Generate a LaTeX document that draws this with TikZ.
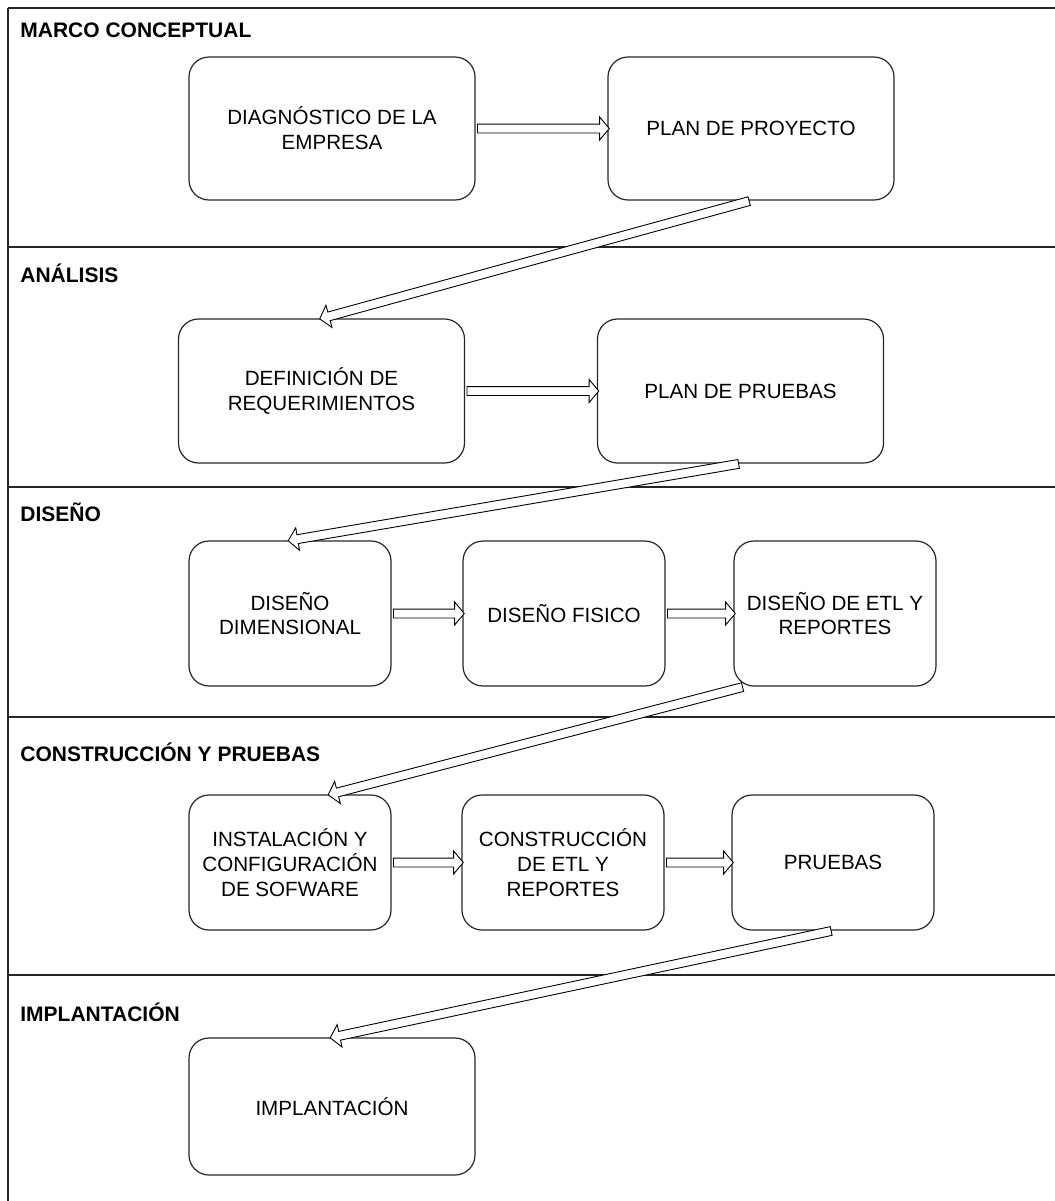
\documentclass[tikz,border=0pt]{standalone}
\usepackage{fontspec}
\setmainfont{Liberation Sans}
\usetikzlibrary{calc,shapes.arrows}

\tikzset{
  caja/.style={draw=black!85, line width=0.6pt, rounded corners=10pt, align=center,
    font=\fontsize{10.3}{12.4}\selectfont},
  ancha/.style={caja, minimum width=143pt},
  estrecha/.style={caja, minimum width=101pt},
  etapa/.style={anchor=west, inner sep=0pt, font=\fontsize{10.5}{12.5}\selectfont\bfseries},
  marco/.style={draw=black!85, line width=0.75pt},
  flecha/.style={to path={
    let \p1=(\tikztostart), \p2=(\tikztotarget),
        \n1={atan2(\y2-\y1,\x2-\x1)}, \n2={veclen(\x2-\x1,\y2-\y1)} in
    ($(\p1)!0.5!(\p2)$) node[single arrow, draw=black, fill=white, line width=0.45pt,
      rotate=\n1, minimum height=\n2, minimum width=11pt, inner sep=2pt,
      single arrow head extend=3.5pt, single arrow tip angle=100]{}}}
}

\begin{document}
\begin{tikzpicture}[x=0.5pt,y=-0.5pt]
\useasboundingbox (0,0) rectangle (1055,1201);
% marco y franjas
\draw[marco] (8,8)--(1055,8);
\draw[marco] (8,8)--(8,1201);
\draw[marco] (8,247)--(1055,247);
\draw[marco] (8,487)--(1055,487);
\draw[marco] (8,717)--(1055,717);
\draw[marco] (8,975)--(1055,975);
\node[etapa] (tmarco) at (20,30) {MARCO CONCEPTUAL};
\node[etapa] (tana) at (20,273) {ANÁLISIS};
\node[etapa] (tdis) at (20,512) {DISEÑO};
\node[etapa] (tcon) at (20,752) {CONSTRUCCIÓN Y PRUEBAS};
\node[etapa] (timp) at (20,1012) {IMPLANTACIÓN};
% cajas
\node[ancha, minimum height=71.5pt] (dia) at (332,128.5) {DIAGNÓSTICO DE LA\\EMPRESA};
\node[ancha, minimum height=71.5pt] (pro) at (751,128.5) {PLAN DE PROYECTO};
\node[ancha, minimum height=72pt] (def) at (321.5,391) {DEFINICIÓN DE\\REQUERIMIENTOS};
\node[ancha, minimum height=72pt] (pru) at (740.5,391) {PLAN DE PRUEBAS};
\node[estrecha, minimum height=72.5pt] (dim) at (290,613.5) {DISEÑO\\DIMENSIONAL};
\node[estrecha, minimum height=72.5pt] (fis) at (564,613.5) {DISEÑO FISICO};
\node[estrecha, minimum height=72.5pt] (etl) at (835,613.5) {DISEÑO DE ETL Y\\REPORTES};
\node[estrecha, minimum height=67.5pt] (ins) at (290,862.5) {INSTALACIÓN Y\\CONFIGURACIÓN\\DE SOFWARE};
\node[estrecha, minimum height=67.5pt] (cns) at (563,862.5) {CONSTRUCCIÓN\\DE ETL Y\\REPORTES};
\node[estrecha, minimum height=67.5pt] (pre) at (833,862.5) {PRUEBAS};
\node[ancha, minimum height=68.5pt] (imp) at (332,1106.5) {IMPLANTACIÓN};
% flechas
\coordinate (s3) at ([xshift=5.5pt]etl.south west);
\coordinate (e3) at ([xshift=20pt]ins.north);
\path (dia.east) to[flecha] (pro.west);
\path (pro.south) to[flecha] (def.north);
\path (def.east) to[flecha] (pru.west);
\path (pru.south) to[flecha] (dim.north);
\path (dim.east) to[flecha] (fis.west);
\path (fis.east) to[flecha] (etl.west);
\path (s3) to[flecha] (e3);
\path (ins.east) to[flecha] (cns.west);
\path (cns.east) to[flecha] (pre.west);
\path (pre.south) to[flecha] (imp.north);
\end{tikzpicture}
\end{document}
